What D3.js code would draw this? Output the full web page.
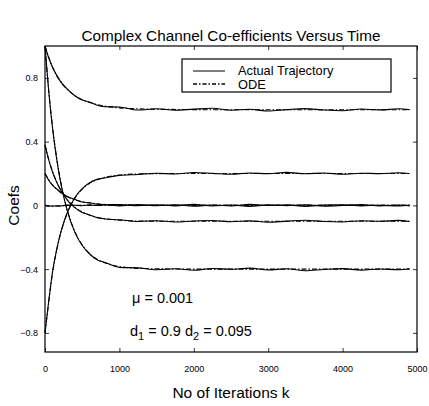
<!DOCTYPE html>
<html>
<head>
<meta charset="utf-8">
<script src="https://cdn.jsdelivr.net/npm/d3@7"></script>
<style>
  body { margin: 0; background: #fff; }
  text { font-family: "Liberation Sans", Arial, Helvetica, sans-serif; }
</style>
</head>
<body>
<div id="viz"></div>
<script>
var ks = [0,50,100,150,200,250,300,400,500,600,700,800,1000,1250,1500,1750,2000,2250,2500,2750,3000,3250,3500,3750,4000,4250,4500,4750,4900];

// ODE (smooth) and actual trajectory for each coefficient
var odeA = [1.0,0.93,0.87,0.82,0.785,0.755,0.728,0.69,0.663,0.645,0.632,0.623,0.612,0.606,0.603,0.602,0.601,0.6,0.6,0.6,0.6,0.6,0.6,0.6,0.6,0.6,0.6,0.6,0.6];
var actA = [1.0,0.925,0.868,0.822,0.783,0.752,0.73,0.688,0.661,0.648,0.628,0.619,0.617,0.598,0.606,0.597,0.604,0.609,0.597,0.603,0.592,0.601,0.607,0.598,0.594,0.605,0.599,0.606,0.601];
var odeB = [1.0,0.721,0.497,0.319,0.176,0.061,-0.031,-0.163,-0.248,-0.303,-0.338,-0.36,-0.384,-0.395,-0.398,-0.399,-0.4,-0.4,-0.4,-0.4,-0.4,-0.4,-0.4,-0.4,-0.4,-0.4,-0.4,-0.4,-0.4];
var actB = [1.0,0.715,0.49,0.312,0.17,0.058,-0.035,-0.168,-0.252,-0.305,-0.342,-0.357,-0.389,-0.392,-0.404,-0.398,-0.407,-0.396,-0.401,-0.394,-0.405,-0.398,-0.41,-0.402,-0.397,-0.406,-0.399,-0.404,-0.398];
var odeC = [-0.8,-0.608,-0.428,-0.298,-0.194,-0.113,-0.048,0.044,0.102,0.139,0.161,0.176,0.19,0.197,0.199,0.2,0.2,0.2,0.2,0.2,0.2,0.2,0.2,0.2,0.2,0.2,0.2,0.2,0.2];
var actC = [-0.8,-0.6,-0.42,-0.292,-0.19,-0.11,-0.045,0.048,0.105,0.142,0.163,0.172,0.188,0.194,0.202,0.197,0.206,0.201,0.195,0.203,0.199,0.207,0.198,0.203,0.195,0.202,0.199,0.205,0.2];
var odeD = [0.38,0.289,0.215,0.155,0.107,0.068,0.036,-0.011,-0.041,-0.062,-0.075,-0.083,-0.093,-0.098,-0.099,-0.1,-0.1,-0.1,-0.1,-0.1,-0.1,-0.1,-0.1,-0.1,-0.1,-0.1,-0.1,-0.1,-0.1];
var actD = [0.38,0.285,0.21,0.152,0.104,0.07,0.033,-0.014,-0.044,-0.06,-0.078,-0.085,-0.09,-0.101,-0.096,-0.104,-0.098,-0.095,-0.103,-0.097,-0.106,-0.099,-0.093,-0.101,-0.104,-0.096,-0.1,-0.094,-0.101];
var odeE = [0.2,0.161,0.129,0.104,0.084,0.067,0.054,0.035,0.023,0.015,0.01,0.006,0.003,0.001,0,0,0,0,0,0,0,0,0,0,0,0,0,0,0];
var actE = [0.2,0.158,0.127,0.106,0.087,0.07,0.056,0.038,0.021,0.016,0.008,0.004,0.005,-0.002,0.004,-0.003,0.006,-0.004,0.002,-0.006,0.003,-0.002,0.004,-0.005,-0.001,0.005,-0.003,0.002,-0.004];
var odeF = [0,-0.003,-0.004,-0.004,-0.003,-0.002,-0.001,0,0,0,0,0,0,0,0,0,0,0,0,0,0,0,0,0,0,0,0,0,0];
var actF = [0,-0.004,-0.005,-0.003,-0.004,-0.001,0.002,0.001,-0.002,0.003,-0.001,0.004,-0.003,0.005,-0.002,0.003,-0.005,0.002,-0.004,0.006,-0.001,0.003,-0.006,0.002,0.004,-0.003,0.001,-0.004,0.002];

var xTicks = [0,1000,2000,3000,4000,5000];
var yTicks = [-0.8,-0.4,0,0.4,0.8];
var legendLabels = ["Actual Trajectory","ODE"];

var W = 429, H = 406;
var pLeft = 45, pRight = 417, pTop = 46, pBottom = 352;

var svg = d3.select("#viz").append("svg")
    .attr("width", W)
    .attr("height", H);

var x = d3.scaleLinear().domain([0,5000]).range([pLeft,pRight]);
var y = d3.scaleLinear().domain([-0.92,1]).range([pBottom,pTop]);

// axes, ticks pointing inward like matlab
svg.append("g").attr("transform","translate(0,"+pBottom+")")
    .call(d3.axisBottom(x).tickValues(xTicks).tickSize(-4).tickPadding(14).tickFormat(d3.format("d")));
svg.append("g").attr("transform","translate(0,"+pTop+")")
    .call(d3.axisTop(x).tickValues(xTicks).tickSize(-4).tickFormat(""));
svg.append("g").attr("transform","translate("+pLeft+",0)")
    .call(d3.axisLeft(y).tickValues(yTicks).tickSize(-4).tickPadding(7).tickFormat(function(d){ return d == 0 ? "0" : d3.format(".1f")(d).replace("-","\u2212"); }));
svg.append("g").attr("transform","translate("+pRight+",0)")
    .call(d3.axisRight(y).tickValues(yTicks).tickSize(-4).tickFormat(""));

svg.selectAll(".domain").remove();
svg.selectAll(".tick line").attr("stroke","#000").attr("stroke-width",0.8);
svg.selectAll(".tick text").style("font-size","9px").attr("fill","#000");

svg.append("rect")
    .attr("x",pLeft).attr("y",pTop)
    .attr("width",pRight-pLeft).attr("height",pBottom-pTop)
    .attr("fill","none").attr("stroke","#000").attr("stroke-width",1.2);

var line = d3.line()
    .x(function(d,i){ return x(ks[i]); })
    .y(function(d){ return y(d); })
    .curve(d3.curveMonotoneX);

var actual = [actA,actB,actC,actD,actE,actF];
var ode = [odeA,odeB,odeC,odeD,odeE,odeF];

for (var i = 0; i < actual.length; i++) {
    svg.append("path")
        .attr("d", line(actual[i]))
        .attr("fill","none").attr("stroke","#000").attr("stroke-width",1.1);
}
for (var i = 0; i < ode.length; i++) {
    svg.append("path")
        .attr("d", line(ode[i]))
        .attr("fill","none").attr("stroke","#000").attr("stroke-width",1.1)
        .attr("stroke-dasharray","5,2,1.5,2");
}

// legend
var lg = svg.append("g");
lg.append("rect").attr("x",182).attr("y",59).attr("width",209).attr("height",33)
    .attr("fill","#fff").attr("stroke","#000").attr("stroke-width",1.2);
lg.append("line").attr("x1",193).attr("x2",225).attr("y1",71).attr("y2",71)
    .attr("stroke","#000").attr("stroke-width",1);
lg.append("line").attr("x1",193).attr("x2",225).attr("y1",84).attr("y2",84)
    .attr("stroke","#000").attr("stroke-width",1.6).attr("stroke-dasharray","4,2,1.5,2");
lg.selectAll("text.lab").data(legendLabels).enter().append("text")
    .attr("class","lab")
    .attr("x",238).attr("y",function(d,i){ return 75 + i*14; })
    .style("font-size","12.8px")
    .text(function(d){ return d; });

// title and axis labels
svg.append("text").attr("x",(pLeft+pRight)/2).attr("y",41).attr("text-anchor","middle")
    .style("font-size","15.3px").text("Complex Channel Co-efficients Versus Time");
svg.append("text").attr("x",(pLeft+pRight)/2).attr("y",398).attr("text-anchor","middle")
    .style("font-size","15.5px").text("No of Iterations k");
svg.append("text").attr("transform","translate(19,"+y(0)+") rotate(-90)").attr("text-anchor","middle")
    .style("font-size","15.5px").text("Coefs");

// annotations
svg.append("text").attr("x",132).attr("y",303).style("font-size","14.5px").text("\u03bc = 0.001");
var dt = svg.append("text").attr("x",130).attr("y",336).style("font-size","14.5px");
dt.append("tspan").text("d");
dt.append("tspan").attr("dy",4).style("font-size","11px").text("1");
dt.append("tspan").attr("dy",-4).text(" = 0.9 d");
dt.append("tspan").attr("dy",4).style("font-size","11px").text("2");
dt.append("tspan").attr("dy",-4).text(" = 0.095");
</script>
</body>
</html>
